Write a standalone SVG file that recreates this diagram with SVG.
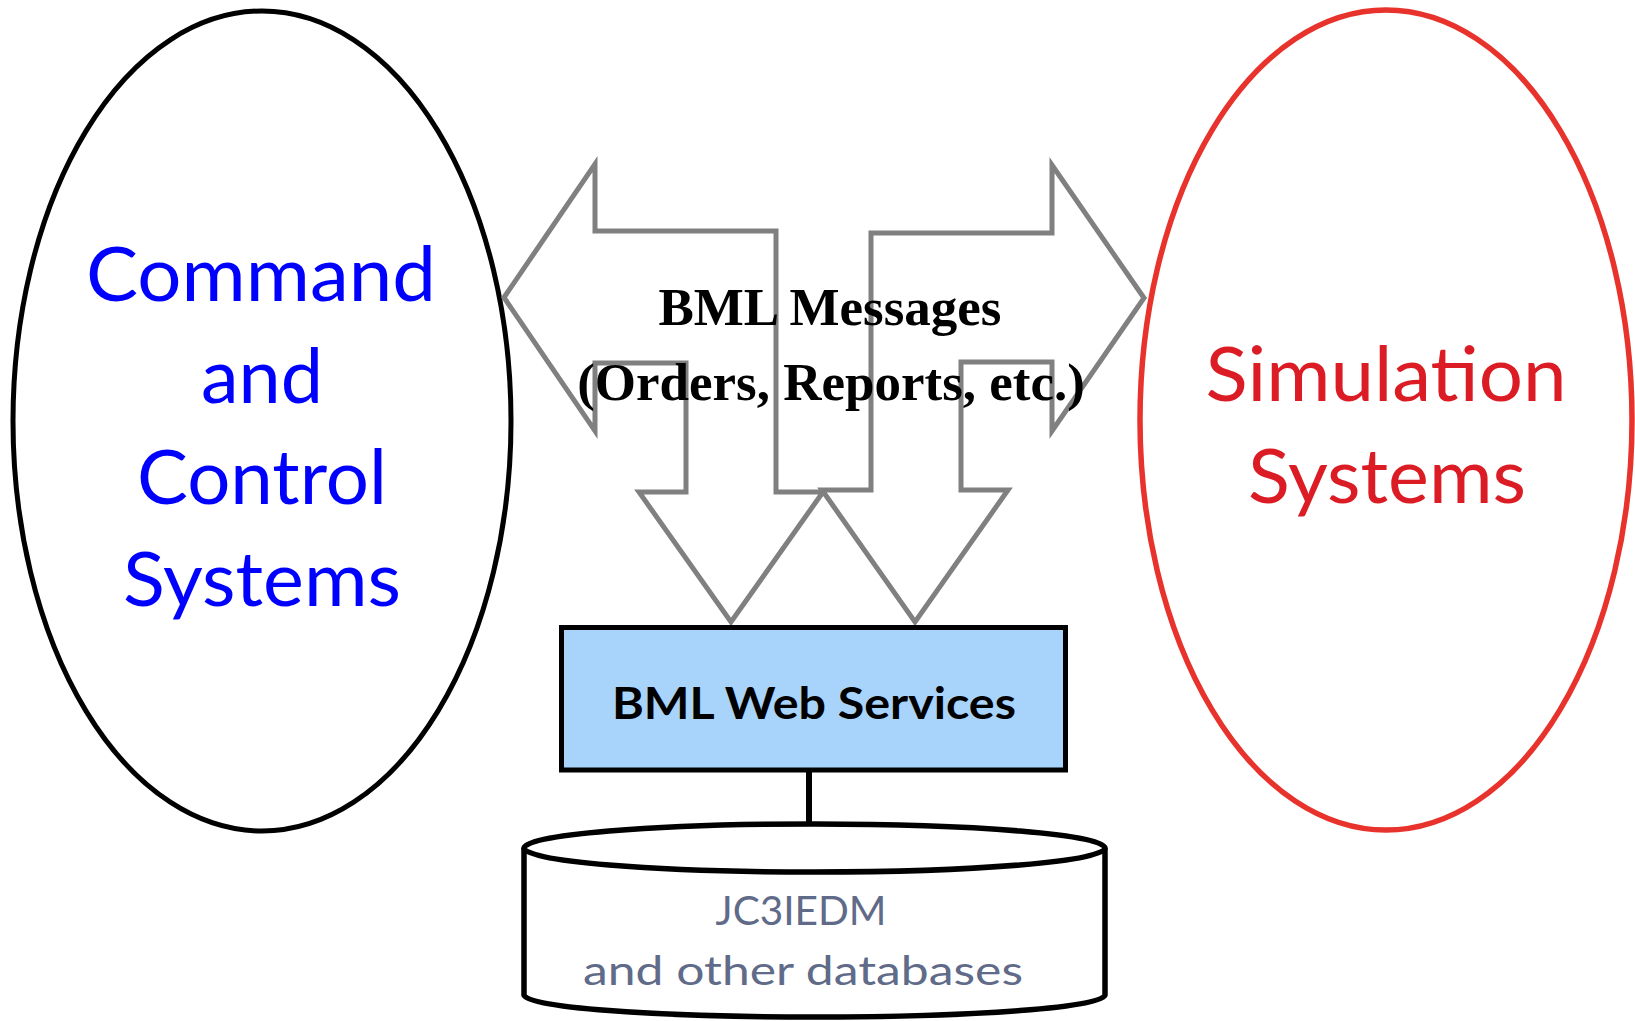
<svg xmlns="http://www.w3.org/2000/svg" width="1635" height="1021" viewBox="0 0 1635 1021">
  <style>
    .c2 { font-family: Lato, "Open Sans", "Liberation Sans", sans-serif; font-size: 76px; text-anchor: middle; }
    .blue { fill: #0000ff; }
    .red { fill: #dc1c24; }
    .msg { font-family: "Liberation Serif", "Times New Roman", serif; font-weight: bold; font-size: 53px; fill: #000; text-anchor: middle; }
    .arrow { fill: none; stroke: #808080; stroke-width: 5; stroke-linejoin: miter; stroke-miterlimit: 10; }
    .ws { font-family: Lato, "Open Sans", "Liberation Sans", sans-serif; font-weight: bold; font-size: 43px; fill: #000; text-anchor: middle; }
    .db { font-family: Lato, "Open Sans", "Liberation Sans", sans-serif; font-size: 41px; fill: #5f6b88; text-anchor: middle; }
  </style>
  <rect width="1635" height="1021" fill="#ffffff"/>

  <g id="c2-systems">
    <ellipse cx="262" cy="421" rx="249" ry="410" fill="none" stroke="#000" stroke-width="5"/>
    <text class="c2 blue" x="261" y="301" textLength="350" lengthAdjust="spacingAndGlyphs">Command</text>
    <text class="c2 blue" x="262" y="403" textLength="122" lengthAdjust="spacingAndGlyphs">and</text>
    <text class="c2 blue" x="262" y="504" textLength="250" lengthAdjust="spacingAndGlyphs">Control</text>
    <text class="c2 blue" x="262" y="606" textLength="278" lengthAdjust="spacingAndGlyphs">Systems</text>
  </g>

  <g id="simulation-systems">
    <ellipse cx="1386" cy="420" rx="246" ry="410" fill="none" stroke="#e8322c" stroke-width="5.5"/>
    <text class="c2 red" x="1386" y="401" textLength="361" lengthAdjust="spacingAndGlyphs">Simulation</text>
    <text class="c2 red" x="1387" y="503" textLength="278" lengthAdjust="spacingAndGlyphs">Systems</text>
  </g>

  <g id="connectors">
    <path id="arrow-left" class="arrow" d="M 504,297.5 L 595,164 L 595,231 L 776,231 L 776,492 L 823,492 L 731,622 L 639,492 L 686,492 L 686,363 L 595,363 L 595,431 Z"/>
    <path id="arrow-right" class="arrow" d="M 1144,298 L 1052,165 L 1052,233 L 871,233 L 871,490 L 822,490 L 915,622 L 1008,490 L 961,490 L 961,362 L 1052,362 L 1052,431 Z"/>
    <line id="ws-db" x1="809" y1="770" x2="809" y2="828" stroke="#000" stroke-width="6"/>
  </g>

  <g id="bml-messages">
    <text class="msg" x="830" y="325">BML Messages</text>
    <text class="msg" x="831" y="400">(Orders, Reports, etc.)</text>
  </g>

  <g id="bml-web-services">
    <rect x="561.5" y="627.5" width="504" height="142.5" fill="#a8d4fc" stroke="#000" stroke-width="5"/>
    <text class="ws" x="814" y="719" textLength="404" lengthAdjust="spacingAndGlyphs">BML Web Services</text>
  </g>

  <g id="database">
    <path d="M 524,848 L 524,995 A 290.5,22 0 0 0 1105,995 L 1105,848" fill="#fff" stroke="#000" stroke-width="5.5"/>
    <ellipse cx="814.5" cy="848" rx="290.5" ry="24" fill="#fff" stroke="#000" stroke-width="5.5"/>
    <text class="db" x="801" y="925" textLength="171" lengthAdjust="spacingAndGlyphs">JC3IEDM</text>
    <text class="db" x="803" y="985" textLength="440" lengthAdjust="spacingAndGlyphs">and other databases</text>
  </g>
</svg>
